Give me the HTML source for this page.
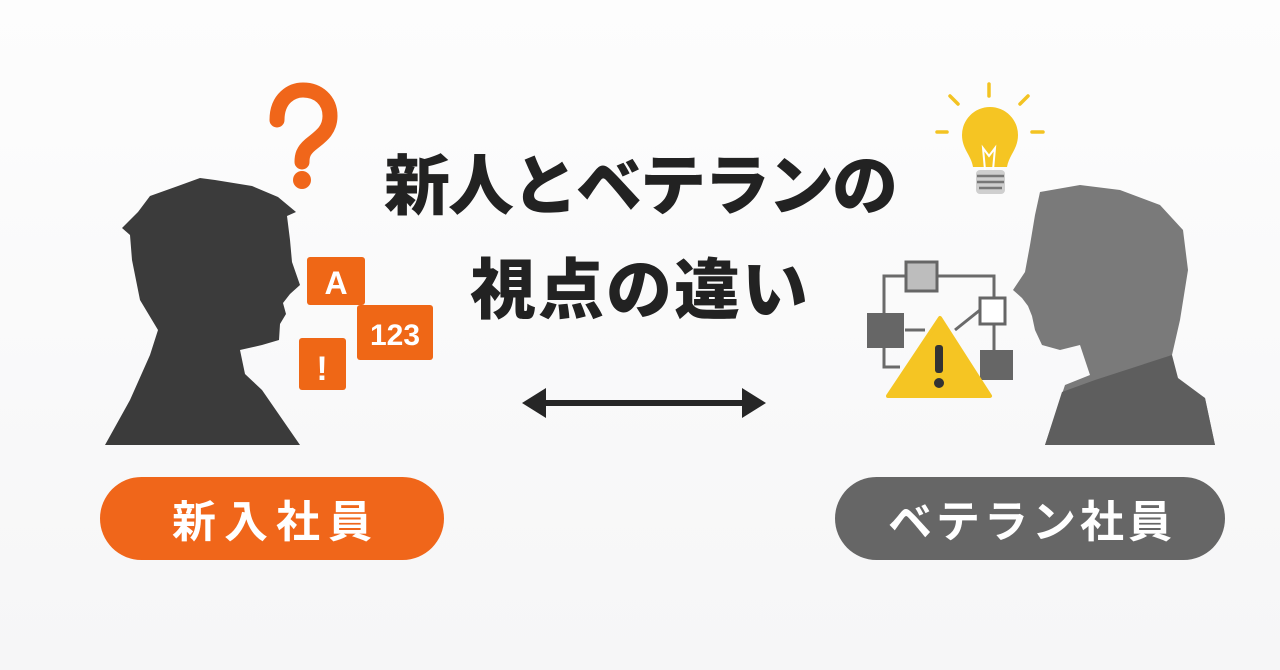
<!DOCTYPE html>
<html><head><meta charset="utf-8"><style>
html,body{margin:0;padding:0;}
body{width:1280px;height:670px;overflow:hidden;background:linear-gradient(#fdfdfd,#f6f6f7);position:relative;font-family:"Liberation Sans","Noto Sans CJK JP",sans-serif;}
.t{position:absolute;left:0;width:1280px;text-align:center;font-weight:900;color:#222;font-size:66px;line-height:1;font-family:"Noto Sans CJK JP",sans-serif;}
.pill{position:absolute;height:83px;border-radius:42px;color:#fff;font-weight:700;font-size:44px;line-height:83px;text-align:center;font-family:"Noto Sans CJK JP",sans-serif;}
</style></head><body>
<svg width="1280" height="670" style="position:absolute;left:0;top:0">
<!-- left person -->
<path d="M105,445 L130,400 L150,355 L158,330 L140,300 L132,260 L130,235 L122,228 L138,212 L150,196 L178,186 L200,178 L215,180 L252,186 L278,197 L296,212 L287,216 L290,240 L292,262 L300,285 L290,294 L283,303 L286,314 L280,324 L279,340 L262,345 L240,350 L245,374 L262,390 L300,445 Z" fill="#3b3b3b"/>
<!-- question mark -->
<path d="M277,120 C277,98 292,90 303,90 C318,90 330,100 330,116 C330,132 318,138 310,145 C303,151 302,156 302,162" stroke="#f0661a" stroke-width="15" fill="none" stroke-linecap="round"/>
<circle cx="302" cy="180" r="9" fill="#f0661a"/>
<rect x="307" y="257" width="58" height="48" rx="3" fill="#ef6716"/>
<text x="336" y="294" text-anchor="middle" font-weight="700" font-size="32" fill="#fff" font-family="Liberation Sans,sans-serif">A</text>
<rect x="357" y="305" width="76" height="55" rx="3" fill="#ef6716"/>
<text x="395" y="345" text-anchor="middle" font-weight="700" font-size="30" fill="#fff" font-family="Liberation Sans,sans-serif">123</text>
<rect x="299" y="338" width="47" height="52" rx="3" fill="#ef6716"/>
<text x="322" y="380" text-anchor="middle" font-weight="700" font-size="34" fill="#fff" font-family="Liberation Sans,sans-serif">!</text>
<!-- arrow -->
<line x1="540" y1="403" x2="748" y2="403" stroke="#262626" stroke-width="6"/>
<polygon points="522,403 546,388 546,418" fill="#262626"/>
<polygon points="766,403 742,388 742,418" fill="#262626"/>
<!-- right person -->
<path d="M1045,445 L1065,385 L1090,375 L1080,345 L1060,350 L1042,345 L1035,330 L1032,316 L1028,306 L1022,298 L1013,290 L1025,272 L1030,245 L1035,215 L1040,192 L1080,185 L1120,190 L1160,205 L1183,230 L1188,270 L1180,320 L1172,355 L1172,378 L1205,398 L1215,445 Z" fill="#7a7a7a"/>
<path d="M1045,445 L1062,392 L1095,380 L1172,355 L1178,378 L1205,398 L1215,445 Z" fill="#5e5e5e"/>
<!-- bulb -->
<g stroke="#f3c322" stroke-width="3.5" stroke-linecap="round">
<line x1="989" y1="84" x2="989" y2="96"/><line x1="950" y1="96" x2="958" y2="104"/><line x1="1028" y1="96" x2="1020" y2="104"/>
<line x1="937" y1="132" x2="947" y2="132"/><line x1="1032" y1="132" x2="1043" y2="132"/></g>
<path d="M962,135 a28,28 0 1 1 56,0 c0,14 -9,20 -11,32 l-34,0 c-2,-12 -11,-18 -11,-32 Z" fill="#f5c523"/>
<path d="M985,170 L983,148 L989,156 L995,148 L993,170" stroke="#fff" stroke-width="2" fill="none"/>
<rect x="976" y="170" width="29" height="24" rx="4" fill="#cfcfcf"/>
<g stroke="#777" stroke-width="2.5"><line x1="977" y1="176" x2="1004" y2="176"/><line x1="977" y1="182" x2="1004" y2="182"/><line x1="979" y1="188" x2="1002" y2="188"/></g>
<!-- flowchart -->
<g stroke="#6a6a6a" stroke-width="3" fill="none">
<polyline points="905,276 884,276 884,313"/><polyline points="937,276 994,276 994,298"/>
<line x1="905" y1="330" x2="925" y2="330"/><polyline points="884,348 884,367 900,367"/>
<line x1="955" y1="330" x2="980" y2="310"/><line x1="994" y1="325" x2="994" y2="350"/></g>
<rect x="906" y="262" width="31" height="29" fill="#bdbdbd" stroke="#666" stroke-width="3"/>
<rect x="980" y="298" width="25" height="26" fill="#fff" stroke="#666" stroke-width="3"/>
<rect x="867" y="313" width="37" height="35" fill="#666"/>
<rect x="980" y="350" width="33" height="30" fill="#666"/>
<path d="M940,318 L990,396 L888,396 Z" fill="#f5c523" stroke="#f5c523" stroke-width="4" stroke-linejoin="round"/>
<rect x="935" y="345" width="8" height="28" rx="3" fill="#333"/><circle cx="939" cy="383" r="5" fill="#333"/>
</svg>
<div class="t" style="top:148px;letter-spacing:-2px">新人とベテランの</div>
<div class="t" style="top:252px;letter-spacing:2px">視点の違い</div>
<div class="pill" style="left:100px;top:477px;width:344px;background:#f0661a;letter-spacing:8px;text-indent:8px">新入社員</div>
<div class="pill" style="left:835px;top:477px;width:390px;background:#666;letter-spacing:4px;text-indent:4px">ベテラン社員</div>
</body></html>
